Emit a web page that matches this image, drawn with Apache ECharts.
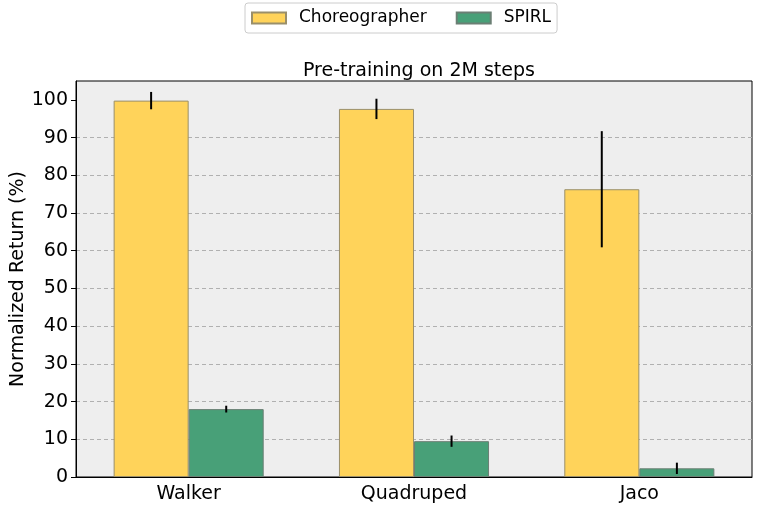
<!DOCTYPE html>
<html><head><meta charset="utf-8">
<script src="https://cdn.jsdelivr.net/npm/echarts@6/dist/echarts.min.js"></script>
<style>html,body{margin:0;padding:0;background:#fff}#c{width:761px;height:513px}</style>
</head><body><div id="c"></div>
<script>
const categories = ['Walker', 'Quadruped', 'Jaco'];
const choreoMean = [99.8, 97.6, 76.3];
const choreoErr = [2.3, 2.7, 15.4];
const spirlMean = [18.0, 9.5, 2.3];
const spirlErr = [0.9, 1.5, 1.5];
const yTicks = [0, 10, 20, 30, 40, 50, 60, 70, 80, 90, 100];

const FONT = 'DejaVu Sans';
const chart = echarts.init(document.getElementById('c'));

function errSeries(means, errs, side) {
  return {
    type: 'custom',
    silent: true,
    z: 10,
    data: means.map((m, i) => [i, m - errs[i], m + errs[i]]),
    renderItem: function (params, api) {
      const idx = api.value(0);
      const lo = api.coord([idx, api.value(1)]);
      const hi = api.coord([idx, api.value(2)]);
      const bw = api.size([1, 0])[0];
      const x = lo[0] + side * bw / 6;
      return {
        type: 'line',
        shape: { x1: x, y1: lo[1], x2: x, y2: hi[1] },
        style: { stroke: '#000', lineWidth: 2 }
      };
    }
  };
}

chart.setOption({
  animation: false,
  textStyle: { fontFamily: FONT },
  title: {
    text: 'Pre-training on 2M steps',
    left: 298, top: 57,
    textStyle: { fontFamily: FONT, fontSize: 19, fontWeight: 'normal', color: '#000' }
  },
  legend: {
    data: ['Choreographer', 'SPIRL'],
    left: 245, top: 3,
    icon: 'rect',
    itemWidth: 34, itemHeight: 11, itemGap: 29,
    padding: [6, 6, 6, 6],
    borderColor: '#ccc', borderWidth: 1, borderRadius: 3,
    textStyle: { fontFamily: FONT, fontSize: 17, color: '#000', padding: [0, 0, 0, 8], lineHeight: 18 }
  },
  grid: {
    left: 76, right: 9, top: 81, bottom: 36,
    outerBoundsMode: 'none', containLabel: false,
    show: true, backgroundColor: '#eeeeee', borderColor: '#000', borderWidth: 1
  },
  xAxis: {
    type: 'category',
    data: categories,
    axisLine: { lineStyle: { color: '#000', width: 1 } },
    axisTick: { alignWithLabel: true, length: 5, lineStyle: { color: '#000' } },
    axisLabel: { fontFamily: FONT, fontSize: 19, color: '#000', margin: 8 }
  },
  yAxis: {
    type: 'value',
    min: 0, max: 105, interval: 10,
    name: 'Normalized Return (%)',
    nameLocation: 'middle', nameGap: 48, nameMoveOverlap: false,
    nameTextStyle: { fontFamily: FONT, fontSize: 19, color: '#000' },
    axisLine: { show: true, lineStyle: { color: '#000' } },
    axisTick: { show: true, length: 5, lineStyle: { color: '#000' }, customValues: yTicks },
    axisLabel: {
      fontFamily: FONT, fontSize: 19, color: '#000', margin: 8,
      customValues: yTicks
    },
    splitLine: { show: true, showMaxLine: false, lineStyle: { color: '#b0b0b0', type: [4, 3], width: 1 } }
  },
  series: [
    {
      name: 'Choreographer', type: 'bar', data: choreoMean,
      barWidth: '33.3%', barGap: '0%',
      itemStyle: { color: '#ffd35a', borderColor: '#9a8f6a', borderWidth: 1 }
    },
    {
      name: 'SPIRL', type: 'bar', data: spirlMean,
      barWidth: '33.3%', barGap: '0%',
      itemStyle: { color: '#48a078', borderColor: '#6b7f74', borderWidth: 1 }
    },
    errSeries(choreoMean, choreoErr, -1),
    errSeries(spirlMean, spirlErr, 1)
  ]
});
</script>
</body></html>
